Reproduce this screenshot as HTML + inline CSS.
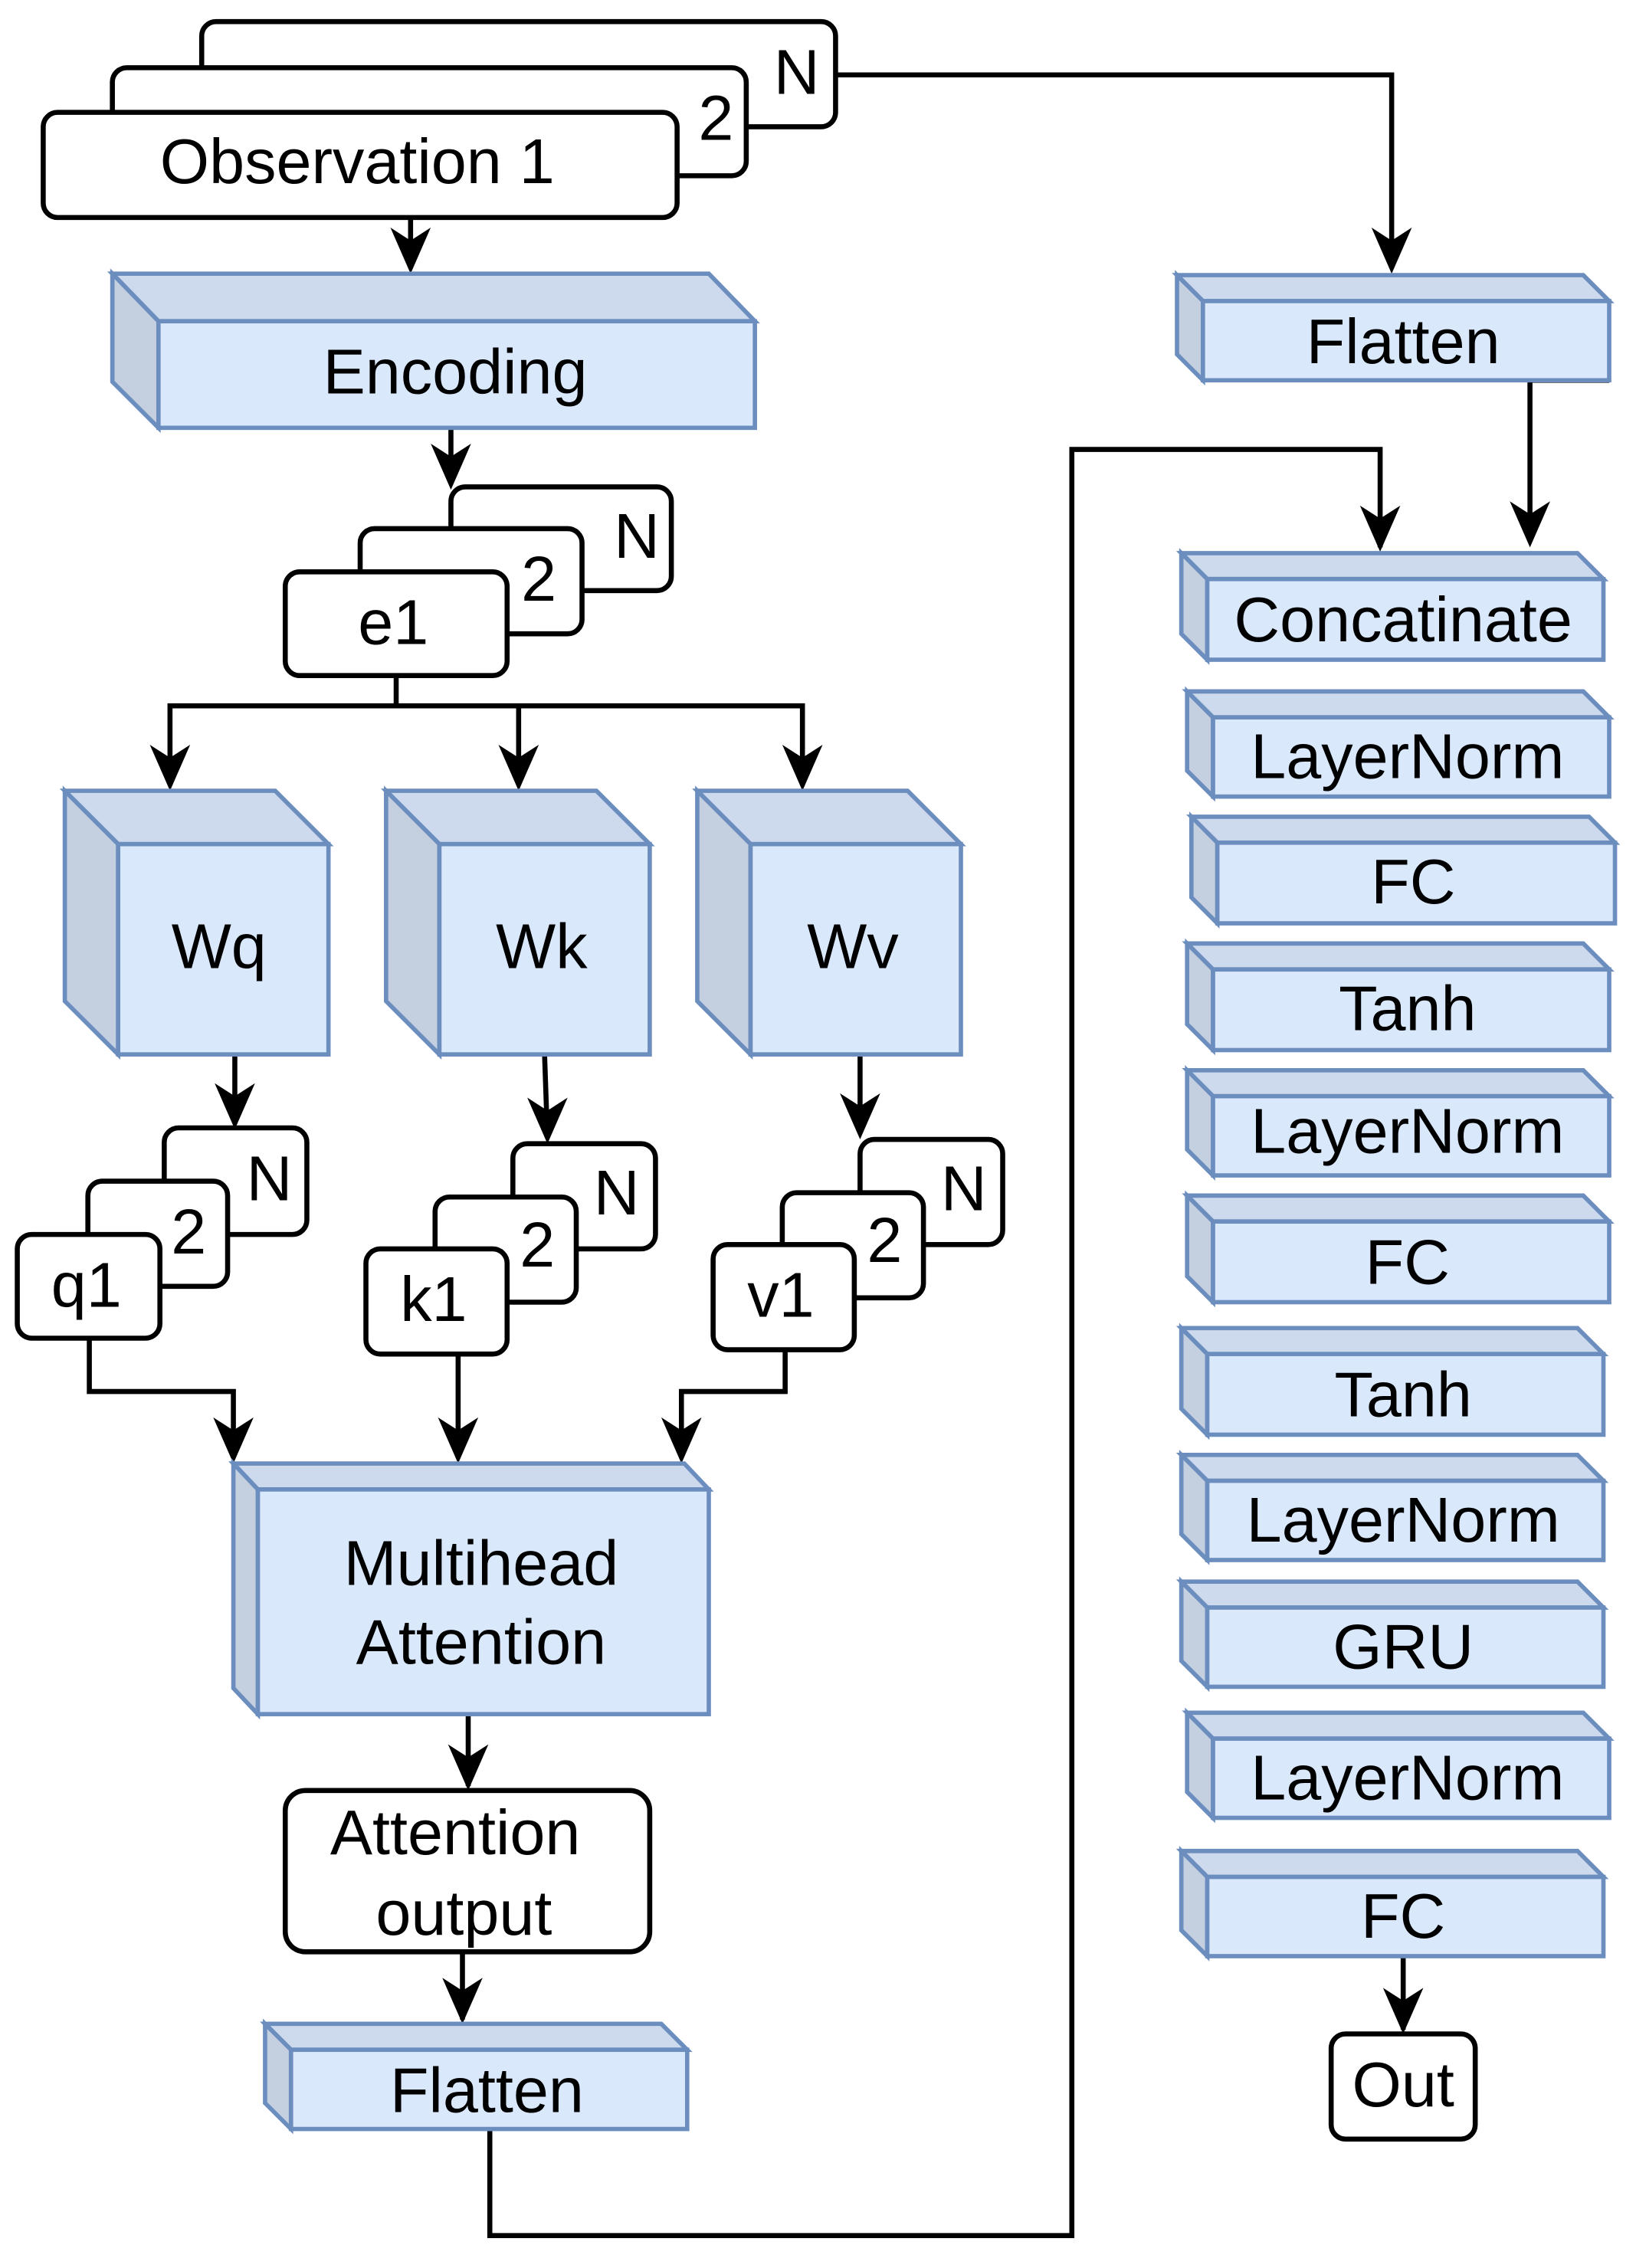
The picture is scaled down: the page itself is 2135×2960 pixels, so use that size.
<!DOCTYPE html>
<html><head><meta charset="utf-8"><style>
html,body{margin:0;padding:0;background:#fff;width:2135px;height:2960px;overflow:hidden}
svg{display:block}
text{font-family:"Liberation Sans",sans-serif;fill:#000;text-anchor:middle;dominant-baseline:central}
</style></head><body>
<svg width="2135" height="2960" viewBox="0 0 1135.6 1574.5" preserveAspectRatio="none">
<g fill="none" stroke="#000" stroke-width="3.5">
<polyline points="580,52 966,52 966,186"/>
<polyline points="1117,264 1062,264 1062,376"/>
<polyline points="340,1478 340,1552 744,1552 744,312 958,312 958,380"/>
<line x1="285" y1="151" x2="285" y2="186"/>
<line x1="313" y1="297" x2="313" y2="335"/>
<polyline points="275,469 275,490"/>
<polyline points="118,545 118,490 557,490 557,545"/>
<line x1="360" y1="490" x2="360" y2="545"/>
<line x1="163" y1="732" x2="163" y2="780"/>
<line x1="378" y1="732" x2="380" y2="790"/>
<line x1="597" y1="732" x2="597" y2="787"/>
<polyline points="62,929 62,966 162,966 162,1012"/>
<line x1="318" y1="940" x2="318" y2="1012"/>
<polyline points="545,937 545,966 473,966 473,1012"/>
<line x1="325" y1="1190" x2="325" y2="1240"/>
<line x1="321" y1="1355" x2="321" y2="1402"/>
<line x1="974" y1="1358" x2="974" y2="1409"/>
</g>
<g fill="#000">
<polygon points="966,190 952,158 966,167 980,158"/>
<polygon points="1062,380 1048,348 1062,357 1076,348"/>
<polygon points="958,383 944,351 958,360 972,351"/>
<polygon points="285,190 271,158 285,167 299,158"/>
<polygon points="313,340 299,308 313,317 327,308"/>
<polygon points="118,549 104,517 118,526 132,517"/>
<polygon points="360,549 346,517 360,526 374,517"/>
<polygon points="557,549 543,517 557,526 571,517"/>
<polygon points="163,784 149,752 163,761 177,752"/>
<polygon points="380,794 366,762 380,771 394,762"/>
<polygon points="597,791 583,759 597,768 611,759"/>
<polygon points="162,1016 148,984 162,993 176,984"/>
<polygon points="318,1016 304,984 318,993 332,984"/>
<polygon points="473,1016 459,984 473,993 487,984"/>
<polygon points="325,1243 311,1211 325,1220 339,1211"/>
<polygon points="321,1405 307,1373 321,1382 335,1373"/>
<polygon points="974,1412 960,1380 974,1389 988,1380"/>
</g>
<g fill="#fff" stroke="#000" stroke-width="3.5">
<rect x="140" y="15" width="440" height="73" rx="10"/>
<rect x="78" y="47" width="440" height="75" rx="10"/>
<rect x="30" y="78" width="440" height="73" rx="10"/>
<rect x="313" y="338" width="153" height="72" rx="10"/>
<rect x="250" y="367" width="154" height="73" rx="10"/>
<rect x="198" y="397" width="154" height="72" rx="10"/>
<rect x="114" y="783" width="99" height="74" rx="10"/>
<rect x="61" y="820" width="97" height="73" rx="10"/>
<rect x="12" y="857" width="99" height="72" rx="10"/>
<rect x="356" y="794" width="99" height="73" rx="10"/>
<rect x="302" y="831" width="98" height="73" rx="10"/>
<rect x="254" y="867" width="98" height="73" rx="10"/>
<rect x="597" y="791" width="99" height="73" rx="10"/>
<rect x="543" y="828" width="98" height="73" rx="10"/>
<rect x="495" y="864" width="98" height="73" rx="10"/>
<rect x="198" y="1243" width="253" height="112" rx="14"/>
<rect x="924" y="1412" width="100" height="73" rx="10"/>
</g>
<g font-size="44">
<text x="553" y="50">N</text><text x="497" y="82">2</text><text x="248" y="112">Observation 1</text>
<text x="442" y="372">N</text><text x="374" y="402">2</text><text x="273" y="432">e1</text>
<text x="187" y="818">N</text><text x="131" y="855">2</text><text x="60" y="892">q1</text>
<text x="428" y="828">N</text><text x="373" y="864">2</text><text x="301" y="902">k1</text>
<text x="669" y="825">N</text><text x="614" y="861">2</text><text x="542" y="899">v1</text>
<text x="316" y="1272">Attention</text><text x="322" y="1328">output</text>
<text x="974" y="1447">Out</text>
</g>
<g stroke="#6c8ebf" stroke-width="3" stroke-linejoin="miter">
<polygon fill="#cdd9ec" points="78,190 492,190 524,223 110,223"/><polygon fill="#c4cfe0" points="78,190 110,223 110,297 78,265"/><rect fill="#dae8fc" x="110" y="223" width="414" height="74"/>
<polygon fill="#cdd9ec" points="45,549 191,549 228,586 82,586"/><polygon fill="#c4cfe0" points="45,549 82,586 82,732 45,695"/><rect fill="#dae8fc" x="82" y="586" width="146" height="146"/>
<polygon fill="#cdd9ec" points="268,549 414,549 451,586 305,586"/><polygon fill="#c4cfe0" points="268,549 305,586 305,732 268,695"/><rect fill="#dae8fc" x="305" y="586" width="146" height="146"/>
<polygon fill="#cdd9ec" points="484,549 630,549 667,586 521,586"/><polygon fill="#c4cfe0" points="484,549 521,586 521,732 484,695"/><rect fill="#dae8fc" x="521" y="586" width="146" height="146"/>
<polygon fill="#cdd9ec" points="162,1016 475,1016 492,1034 179,1034"/><polygon fill="#c4cfe0" points="162,1016 179,1034 179,1190 162,1172"/><rect fill="#dae8fc" x="179" y="1034" width="313" height="156"/>
<polygon fill="#cdd9ec" points="184,1405 459,1405 477,1423 202,1423"/><polygon fill="#c4cfe0" points="184,1405 202,1423 202,1478 184,1460"/><rect fill="#dae8fc" x="202" y="1423" width="275" height="55"/>
<polygon fill="#cdd9ec" points="817,191 1099,191 1117,209 835,209"/><polygon fill="#c4cfe0" points="817,191 835,209 835,264 817,246"/><rect fill="#dae8fc" x="835" y="209" width="282" height="55"/>
<polygon fill="#cdd9ec" points="820,384 1095,384 1113,402 838,402"/><polygon fill="#c4cfe0" points="820,384 838,402 838,458 820,440"/><rect fill="#dae8fc" x="838" y="402" width="275" height="56"/>
<polygon fill="#cdd9ec" points="824,480 1099,480 1117,498 842,498"/><polygon fill="#c4cfe0" points="824,480 842,498 842,553 824,535"/><rect fill="#dae8fc" x="842" y="498" width="275" height="55"/>
<polygon fill="#cdd9ec" points="827,567 1103,567 1121,585 845,585"/><polygon fill="#c4cfe0" points="827,567 845,585 845,641 827,623"/><rect fill="#dae8fc" x="845" y="585" width="276" height="56"/>
<polygon fill="#cdd9ec" points="824,655 1099,655 1117,673 842,673"/><polygon fill="#c4cfe0" points="824,655 842,673 842,729 824,711"/><rect fill="#dae8fc" x="842" y="673" width="275" height="56"/>
<polygon fill="#cdd9ec" points="824,743 1099,743 1117,761 842,761"/><polygon fill="#c4cfe0" points="824,743 842,761 842,816 824,798"/><rect fill="#dae8fc" x="842" y="761" width="275" height="55"/>
<polygon fill="#cdd9ec" points="824,830 1099,830 1117,848 842,848"/><polygon fill="#c4cfe0" points="824,830 842,848 842,904 824,886"/><rect fill="#dae8fc" x="842" y="848" width="275" height="56"/>
<polygon fill="#cdd9ec" points="820,922 1095,922 1113,940 838,940"/><polygon fill="#c4cfe0" points="820,922 838,940 838,996 820,978"/><rect fill="#dae8fc" x="838" y="940" width="275" height="56"/>
<polygon fill="#cdd9ec" points="820,1010 1095,1010 1113,1028 838,1028"/><polygon fill="#c4cfe0" points="820,1010 838,1028 838,1083 820,1065"/><rect fill="#dae8fc" x="838" y="1028" width="275" height="55"/>
<polygon fill="#cdd9ec" points="820,1098 1095,1098 1113,1116 838,1116"/><polygon fill="#c4cfe0" points="820,1098 838,1116 838,1171 820,1153"/><rect fill="#dae8fc" x="838" y="1116" width="275" height="55"/>
<polygon fill="#cdd9ec" points="824,1189 1099,1189 1117,1207 842,1207"/><polygon fill="#c4cfe0" points="824,1189 842,1207 842,1262 824,1244"/><rect fill="#dae8fc" x="842" y="1207" width="275" height="55"/>
<polygon fill="#cdd9ec" points="820,1285 1095,1285 1113,1303 838,1303"/><polygon fill="#c4cfe0" points="820,1285 838,1303 838,1358 820,1340"/><rect fill="#dae8fc" x="838" y="1303" width="275" height="55"/>
</g>
<g font-size="44">
<text x="316" y="258">Encoding</text>
<text x="152" y="657">Wq</text><text x="376" y="657">Wk</text><text x="592" y="657">Wv</text>
<text x="334" y="1085">Multihead</text><text x="334" y="1140">Attention</text>
<text x="338" y="1451">Flatten</text>
<text x="974" y="237">Flatten</text>
<text x="974" y="430">Concatinate</text>
<text x="977" y="525">LayerNorm</text>
<text x="981" y="612">FC</text>
<text x="977" y="700">Tanh</text>
<text x="977" y="785">LayerNorm</text>
<text x="977" y="876">FC</text>
<text x="974" y="968">Tanh</text>
<text x="974" y="1055">LayerNorm</text>
<text x="974" y="1143">GRU</text>
<text x="977" y="1234">LayerNorm</text>
<text x="974" y="1330">FC</text>
</g>
</svg>
</body></html>
